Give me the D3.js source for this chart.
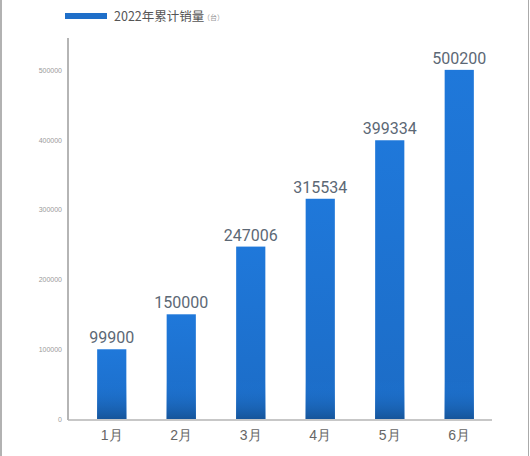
<!DOCTYPE html>
<html>
<head>
<meta charset="utf-8">
<script src="https://cdn.jsdelivr.net/npm/d3@7"></script>
<style>
  body { margin: 0; background: #fff; }
  svg { display: block; font-family: "Noto Sans CJK SC", "Noto Sans", sans-serif; }
</style>
</head>
<body>
<svg id="chart"></svg>
<script>
const months = ['1月', '2月', '3月', '4月', '5月', '6月'];
const sales = [99900, 150000, 247006, 315534, 399334, 500200];
const yTicks = [0, 100000, 200000, 300000, 400000, 500000];

const W = 530, H = 456;
const svg = d3.select('#chart').attr('width', W).attr('height', H);

// frame borders of the screenshot
svg.append('line').attr('x1', 1).attr('x2', 1).attr('y1', 0).attr('y2', H)
    .attr('stroke', '#999').attr('stroke-width', 1.5);
svg.append('line').attr('x1', 528.5).attr('x2', 528.5).attr('y1', 0).attr('y2', H)
    .attr('stroke', '#aaa').attr('stroke-width', 1);

// scales
const x = d3.scaleBand().domain(months).range([77, 494]).paddingInner(0.58).paddingOuter(0.29);
const y = d3.scaleLinear().domain([0, 500000]).range([419, 70]);

// gradient for bars
const defs = svg.append('defs');
const grad = defs.append('linearGradient')
    .attr('id', 'barGrad').attr('x1', 0).attr('x2', 0).attr('y1', 0).attr('y2', 1);
grad.append('stop').attr('offset', '0%').attr('stop-color', '#1f78da');
grad.append('stop').attr('offset', '100%').attr('stop-color', '#1c6cc6');

// bottom shading layer
const shade = defs.append('linearGradient')
    .attr('id', 'shadeGrad').attr('x1', 0).attr('x2', 0).attr('y1', 0).attr('y2', 1);
shade.append('stop').attr('offset', '0%').attr('stop-color', '#1f78da').attr('stop-opacity', 0);
shade.append('stop').attr('offset', '100%').attr('stop-color', '#16559a').attr('stop-opacity', 1);

// bars
svg.selectAll('.bar')
    .data(sales)
    .enter().append('rect')
    .attr('class', 'bar')
    .attr('x', (d, i) => x(months[i]))
    .attr('y', d => y(d))
    .attr('width', x.bandwidth())
    .attr('height', d => y(0) - y(d))
    .attr('fill', 'url(#barGrad)');

svg.selectAll('.shade')
    .data(sales)
    .enter().append('rect')
    .attr('class', 'shade')
    .attr('x', (d, i) => x(months[i]))
    .attr('y', d => Math.max(y(d), y(0) - 38))
    .attr('width', x.bandwidth())
    .attr('height', d => Math.min(y(0) - y(d), 38))
    .attr('fill', 'url(#shadeGrad)');

// value labels
svg.selectAll('.label')
    .data(sales)
    .enter().append('text')
    .attr('class', 'label')
    .attr('x', (d, i) => x(months[i]) + x.bandwidth() / 2)
    .attr('y', d => y(d) - 6)
    .attr('text-anchor', 'middle')
    .attr('font-family', 'Roboto, sans-serif')
    .attr('font-size', 16)
    .attr('fill', '#5c6875')
    .text(d => d);

// y axis
const yAxis = svg.append('g')
    .attr('transform', 'translate(68,0)')
    .call(d3.axisLeft(y).tickValues(yTicks).tickSize(0).tickPadding(6).tickFormat(d3.format('d')));
yAxis.select('.domain').attr('stroke', '#b5b5b5').attr('stroke-width', 2)
    .attr('d', 'M0,38V420');
yAxis.selectAll('text').attr('font-size', 7).attr('fill', '#9a9a9a');

// x axis
const xAxis = svg.append('g')
    .attr('transform', 'translate(0,420)')
    .call(d3.axisBottom(x).tickSize(0).tickPadding(10));
xAxis.select('.domain').attr('stroke', '#b5b5b5').attr('stroke-width', 1.5)
    .attr('d', 'M68,0H492');
xAxis.selectAll('text').attr('font-size', 14).attr('fill', '#666');

// legend
svg.append('rect').attr('x', 65).attr('y', 13).attr('width', 42).attr('height', 6)
    .attr('fill', '#1f6fc9');
svg.append('text').attr('x', 114).attr('y', 21).attr('font-size', 12.5).attr('fill', '#555')
    .text('2022年累计销量');
svg.append('text').attr('x', 203).attr('y', 20).attr('font-size', 7).attr('fill', '#999')
    .text('（台）');
</script>
</body>
</html>
